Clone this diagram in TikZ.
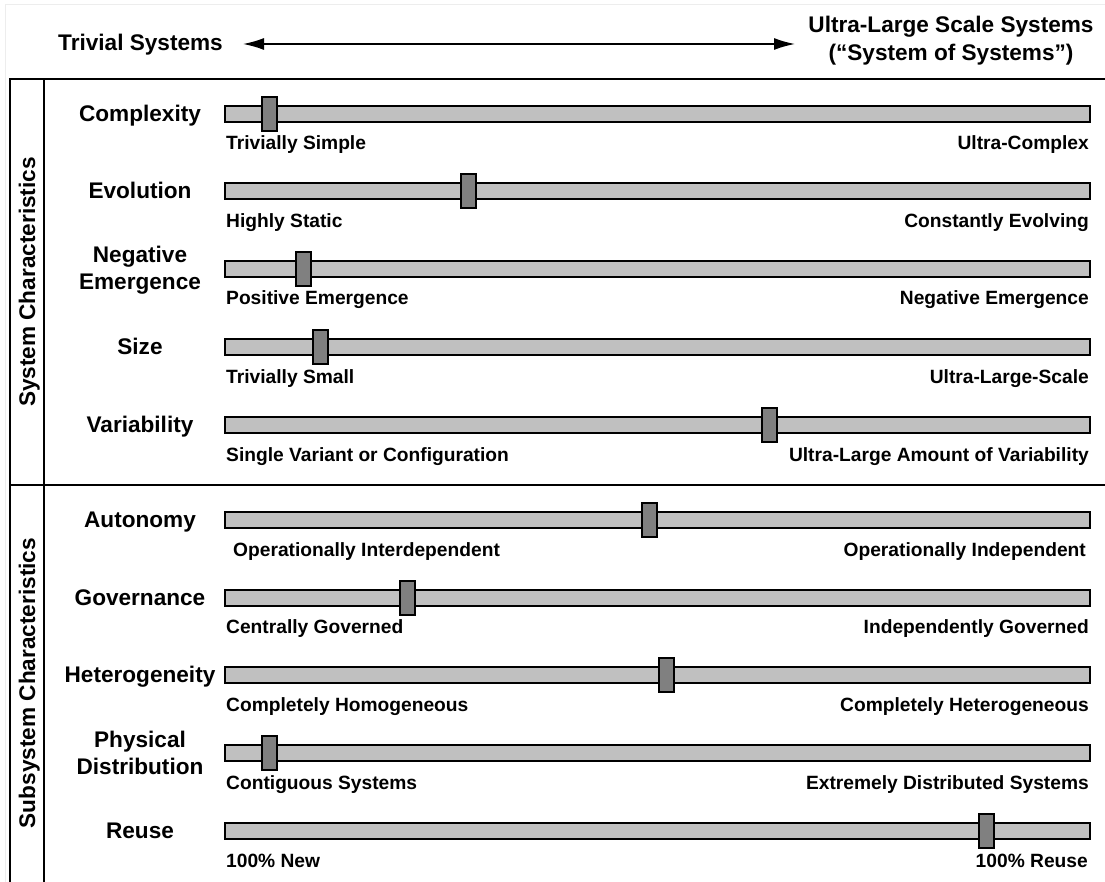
\documentclass[tikz,border=0pt]{standalone}
\usepackage{fontspec}
\setmainfont{Liberation Sans}
\usetikzlibrary{arrows.meta}
\definecolor{barfill}{HTML}{C0C0C0}
\definecolor{knobfill}{HTML}{808080}
\begin{document}
\begin{tikzpicture}[x=1pt,y=-1pt,
  frame/.style={line width=2.5pt, draw=black},
  bar/.style={draw=black, line width=2pt, fill=barfill, minimum width=865pt, minimum height=16pt, inner sep=0pt},
  knob/.style={draw=black, line width=2pt, fill=knobfill, minimum width=15pt, minimum height=34pt, inner sep=0pt},
  rowlabel/.style={font=\bfseries\fontsize{22.6}{27}\selectfont, align=center, inner sep=0pt},
  sublabel/.style={font=\bfseries\fontsize{19.2}{23}\selectfont, inner sep=0pt},
  head/.style={font=\bfseries\fontsize{22.6}{28}\selectfont, align=center, inner sep=0pt},
  sidelabel/.style={font=\bfseries\fontsize{22.6}{27}\selectfont, rotate=90, inner sep=0pt, anchor=base},
  scalearrow/.style={line width=1.6pt, {Latex[length=21pt,width=12pt]}-{Latex[length=21pt,width=12pt]}}
]
\useasboundingbox (0,0) rectangle (1105,882);
\draw[line width=1pt, black!7] (5,882) -- (5,5) -- (1105,5);
% header
\node[head, anchor=base west] (triv) at (58,51) {Trivial Systems};
\node[head] (ultra) at (951,41) {Ultra-Large Scale Systems\\(“System of Systems”)};
\coordinate (arrL) at (243,44);
\coordinate (arrR) at (795,44);
\draw[scalearrow] (arrL) -- (arrR);
% frame
\draw[frame] (1105,79) -- (10,79) -- (10,882);
\draw[frame] (44,79) -- (44,882);
\draw[frame] (10,485) -- (1105,485);
\node[sidelabel] (sys) at (35,282) {System Characteristics};
\node[sidelabel] (sub) at (35,683) {Subsystem Characteristics};
% rows
\foreach \i/\y/\k/\l/\r/\lx/\rx in {
  1/114/269.5/Trivially Simple/Ultra-Complex/226/1089,
  2/191.5/468/Highly Static/Constantly Evolving/226/1089,
  3/269/303/Positive Emergence/Negative Emergence/226/1089,
  4/347/320/Trivially Small/Ultra-Large-Scale/226/1089,
  5/425/769.5/Single Variant or Configuration/Ultra-Large Amount of Variability/226/1089,
  6/520/649/Operationally Interdependent/Operationally Independent/233/1086,
  7/597.5/407/Centrally Governed/Independently Governed/226/1089,
  8/675/666/Completely Homogeneous/Completely Heterogeneous/226/1089,
  9/753/269.5/Contiguous Systems/Extremely Distributed Systems/226/1089,
  10/831/986/100\% New/100\% Reuse/226/1088}
{
  \node[bar] (bar\i) at (657.5,\y) {};
  \node[knob] (knob\i) at (\k,\y) {};
  \node[sublabel, anchor=base west] (left\i) at (\lx,\y+36) {\l};
  \node[sublabel, anchor=base east] (right\i) at (\rx,\y+36) {\r};
}
% row labels
\node[rowlabel, anchor=base] (lab1) at (140,121.5) {Complexity};
\node[rowlabel, anchor=base] (lab2) at (140,199) {Evolution};
\node[rowlabel] (lab3) at (140,270) {Negative\\Emergence};
\node[rowlabel, anchor=base] (lab4) at (140,354.5) {Size};
\node[rowlabel, anchor=base] (lab5) at (140,432.5) {Variability};
\node[rowlabel, anchor=base] (lab6) at (140,527.5) {Autonomy};
\node[rowlabel, anchor=base] (lab7) at (140,605) {Governance};
\node[rowlabel, anchor=base] (lab8) at (140,682.5) {Heterogeneity};
\node[rowlabel] (lab9) at (140,753) {Physical\\Distribution};
\node[rowlabel, anchor=base] (lab10) at (140,838.5) {Reuse};
\end{tikzpicture}
\end{document}
